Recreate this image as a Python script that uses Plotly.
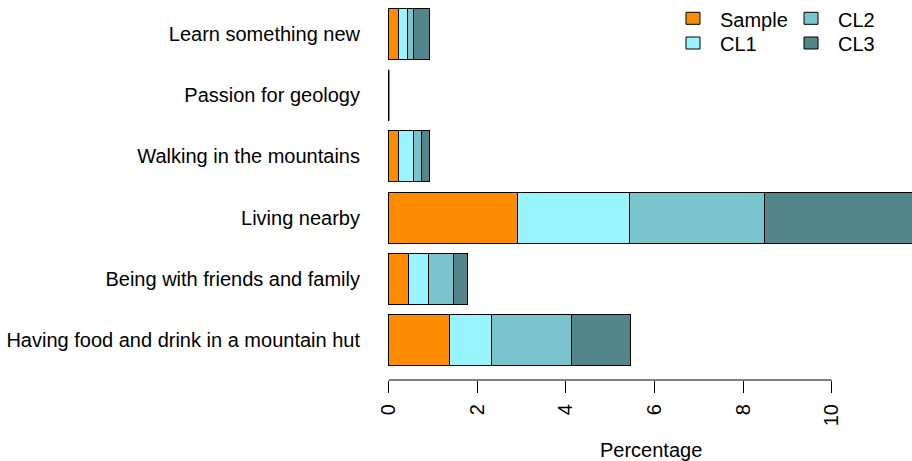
import plotly.graph_objects as go

categories = [
    "Having food and drink in a mountain hut",
    "Being with friends and family",
    "Living nearby",
    "Walking in the mountains",
    "Passion for geology",
    "Learn something new",
]
series_names = ["Sample", "CL1", "CL2", "CL3"]
sample = [1.37, 0.45, 2.91, 0.23, 0.0, 0.23]
cl1 = [0.94, 0.44, 2.52, 0.32, 0.0, 0.19]
cl2 = [1.82, 0.58, 3.05, 0.19, 0.0, 0.13]
cl3 = [1.32, 0.31, 3.37, 0.19, 0.0, 0.38]
colors = ["#FF8C00", "#98F5FF", "#7AC5CD", "#53868B"]
x_ticks = [0, 2, 4, 6, 8, 10]

W, H = 912, 461
L, R, T, B = 371, 0, 0, 81
pw, ph = W - L - R, H - T - B
FS = 20

def px(x):
    return (x - L) / pw

def py(y):
    return 1 - (y - T) / ph

space = 0.2
bar_w = 1 / (1 + space)
ypos = list(range(len(categories)))

fig = go.Figure()
for name, vals, col in zip(series_names, [sample, cl1, cl2, cl3], colors):
    fig.add_trace(go.Bar(
        y=ypos, x=vals, orientation="h", name=name, width=bar_w,
        marker=dict(color=col, line=dict(color="black", width=1)),
        showlegend=False, hoverinfo="x+name",
    ))

totals = [a + b + c + d for a, b, c, d in zip(sample, cl1, cl2, cl3)]
for i, t in enumerate(totals):
    if t == 0:
        fig.add_shape(type="line", xref="x", yref="y", x0=0, x1=0,
                      y0=i - bar_w / 2, y1=i + bar_w / 2,
                      line=dict(color="black", width=1.5))

fig.add_shape(type="line", xref="x", yref="paper", x0=x_ticks[0], x1=x_ticks[-1],
              y0=0, y1=0, line=dict(color="black", width=1))

leg_pos = [(686, 12.3, 718, 20), (686, 37, 718, 44), (804, 12.3, 836, 20), (804, 37, 836, 44)]
for (bx, by, tx, ty), name, col in zip(leg_pos, series_names, colors):
    fig.add_shape(type="rect", xref="paper", yref="paper",
                  x0=px(bx), x1=px(bx + 14), y0=py(by), y1=py(by + 12),
                  fillcolor=col, line=dict(color="black", width=1))
    fig.add_annotation(xref="paper", yref="paper", x=px(tx), y=py(ty),
                       text=name, showarrow=False, xanchor="left", yanchor="middle",
                       font=dict(size=FS, color="black"))

fig.add_annotation(xref="x", yref="paper", x=max(totals) / 2, y=py(450), text="Percentage",
                   showarrow=False, xanchor="center", yanchor="middle",
                   font=dict(size=FS, color="black"))

fig.update_layout(
    width=W, height=H, barmode="stack",
    margin=dict(l=L, r=R, t=T, b=B, pad=0),
    paper_bgcolor="white", plot_bgcolor="white",
    font=dict(family="Liberation Sans, Arial, sans-serif", size=FS, color="black"),
    xaxis=dict(range=[-0.4, (W - L) / 44.3 - 0.4], tickvals=x_ticks,
               ticktext=[str(v) for v in x_ticks], tickangle=-90,
               ticks="outside", ticklen=12, tickcolor="black", tickwidth=1,
               showgrid=False, zeroline=False, showline=False,
               ticklabelstandoff=3),
    yaxis=dict(range=[-0.654, 5.555], tickvals=ypos, ticktext=categories,
               ticks="", showgrid=False, zeroline=False, showline=False,
               ticklabelstandoff=10),
)
fig.write_html("out.html", config={"displayModeBar": False},
               post_script="document.body.style.margin='0';document.body.style.overflow='hidden';")
